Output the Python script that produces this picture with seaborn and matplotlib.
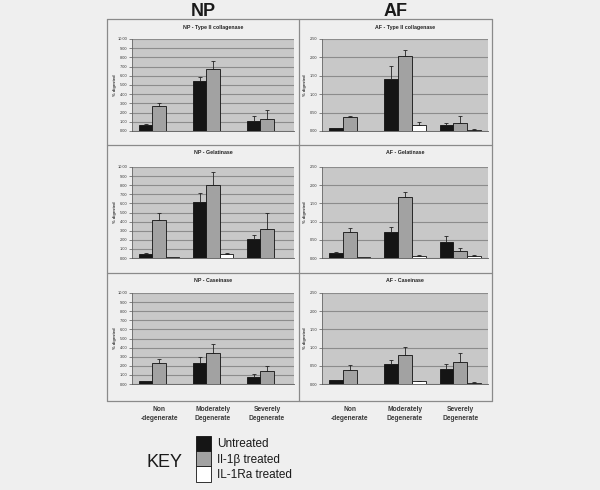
import matplotlib
matplotlib.use("Agg")
import matplotlib.pyplot as plt
import numpy as np
import pandas as pd
import seaborn as sns
from matplotlib.lines import Line2D

# categories / treatments
categories = ["Non\n-degenerate", "Moderately\nDegenerate", "Severely\nDegenerate"]
treatments = ["Untreated", "Il-1\u03b2 treated", "IL-1Ra treated"]

# values: rows = category, cols = treatment
np_collagenase = [[0.65, 2.70, 0.05], [5.45, 6.70, 0.05], [1.05, 1.35, 0.03]]
np_collagenase_err = [[0.08, 0.30, 0.0], [0.45, 0.90, 0.0], [0.55, 0.90, 0.0]]
af_collagenase = [[0.07, 0.37, 0.0], [1.40, 2.05, 0.15], [0.15, 0.23, 0.04]]
af_collagenase_err = [[0.02, 0.05, 0.0], [0.37, 0.15, 0.10], [0.07, 0.18, 0.02]]
np_gelatinase = [[0.45, 4.20, 0.15], [6.10, 8.00, 0.45], [2.05, 3.20, 0.05]]
np_gelatinase_err = [[0.10, 0.80, 0.0], [1.00, 1.40, 0.10], [0.50, 1.75, 0.0]]
af_gelatinase = [[0.14, 0.72, 0.04], [0.72, 1.68, 0.06], [0.44, 0.18, 0.05]]
af_gelatinase_err = [[0.02, 0.11, 0.0], [0.14, 0.14, 0.01], [0.17, 0.09, 0.02]]
np_caseinase = [[0.30, 2.30, 0.02], [2.30, 3.45, 0.02], [0.80, 1.45, 0.02]]
np_caseinase_err = [[0.05, 0.45, 0.0], [0.70, 1.00, 0.0], [0.30, 0.55, 0.0]]
af_caseinase = [[0.10, 0.39, 0.0], [0.55, 0.79, 0.07], [0.41, 0.61, 0.04]]
af_caseinase_err = [[0.02, 0.14, 0.0], [0.12, 0.24, 0.02], [0.14, 0.25, 0.02]]

panels = [
    ("NP - Type II collagenase", np_collagenase, np_collagenase_err, 10),
    ("AF - Type II collagenase", af_collagenase, af_collagenase_err, 2.5),
    ("NP - Gelatinase", np_gelatinase, np_gelatinase_err, 10),
    ("AF - Gelatinase", af_gelatinase, af_gelatinase_err, 2.5),
    ("NP - Caseinase", np_caseinase, np_caseinase_err, 10),
    ("AF - Caseinase", af_caseinase, af_caseinase_err, 2.5),
]

bar_colors = ["#151515", "#a2a2a2", "#ffffff"]
W, H = 600, 490
PAGE = "#efefef"

sns.set_theme(style="white")
plt.rcParams["font.family"] = ["Liberation Sans", "DejaVu Sans"]

fig = plt.figure(figsize=(W / 100, H / 100), dpi=100, facecolor=PAGE)


def px_axes(x0, y0, x1, y1):
    return fig.add_axes([x0 / W, 1 - y1 / H, (x1 - x0) / W, (y1 - y0) / H])


# plot-area boxes in pixel coordinates
col_x = [(132, 294), (322, 488)]
row_y = [(39, 131), (167, 258), (293, 384)]
title_y = [27, 152, 281]
ylabel_x = [115, 305]

handles = labels = None
for i, (title, means, errs, ymax) in enumerate(panels):
    r, c = divmod(i, 2)
    ax = px_axes(col_x[c][0], row_y[r][0], col_x[c][1], row_y[r][1])
    df = pd.DataFrame(
        [(cat, tr, means[ci][ti]) for ci, cat in enumerate(categories)
         for ti, tr in enumerate(treatments)],
        columns=["category", "treatment", "value"],
    )
    sns.barplot(data=df, x="category", y="value", hue="treatment",
                order=categories, hue_order=treatments, palette=bar_colors,
                width=0.75, gap=0, errorbar=None, edgecolor="#111111",
                linewidth=0.6, saturation=1, ax=ax, legend=(i == 0), zorder=3)
    if i == 0:
        handles, labels = ax.get_legend_handles_labels()
        ax.get_legend().remove()

    # one-sided error bars on top of each bar
    bar_conts = list(ax.containers)
    for ti, cont in enumerate(bar_conts):
        xs = [p.get_x() + p.get_width() / 2 for p in cont.patches]
        hs = [p.get_height() for p in cont.patches]
        e = [errs[ci][ti] for ci in range(len(categories))]
        keep = [k for k in range(len(e)) if e[k] > 0]
        if keep:
            ax.errorbar([xs[k] for k in keep], [hs[k] for k in keep],
                        yerr=[[0] * len(keep), [e[k] for k in keep]],
                        fmt="none", ecolor="#222222", elinewidth=0.6,
                        capsize=1.6, capthick=0.6, zorder=4)

    ax.set_facecolor("#c8c8c8")
    ax.set_ylim(0, ymax)
    step = 1 if ymax > 5 else 0.5
    ticks = np.arange(0, ymax + 1e-9, step)
    ax.set_yticks(ticks)
    ax.set_yticklabels([f"{t:.2f}" for t in ticks], fontsize=2.8, color="#333333")
    ax.yaxis.grid(True, color="#8c8c8c", linewidth=0.8, zorder=0)
    ax.set_axisbelow(True)
    ax.tick_params(axis="y", length=2, width=0.5, pad=1.5, color="#555555", left=True)
    ax.tick_params(axis="x", length=0)
    ax.set_xlim(-0.5, 2.5)
    for s in ["top", "right"]:
        ax.spines[s].set_visible(False)
    ax.spines["left"].set_color("#666666")
    ax.spines["left"].set_linewidth(0.6)
    ax.spines["bottom"].set_color("#555555")
    ax.spines["bottom"].set_linewidth(0.6)
    ax.set_xlabel("")
    ax.set_ylabel("")
    fig.text(ylabel_x[c] / W, 1 - (sum(row_y[r]) / 2) / H, "% digested",
             rotation=90, fontsize=3, fontweight="bold", color="#333333",
             ha="center", va="center")
    fig.text(sum(col_x[c]) / 2 / W, 1 - title_y[r] / H, title,
             fontsize=3.8, fontweight="bold", color="#222222",
             ha="center", va="center")
    if r == 2:
        ax.set_xticks(range(len(categories)))
        ax.set_xticklabels(categories, fontsize=4.8, fontweight="bold",
                           color="#3a3a3a", linespacing=1.3)
        ax.tick_params(axis="x", pad=16)
    else:
        ax.set_xticklabels([])

# panel frame
frame_col = "#8a8a8a"
for (x0, y0, x1, y1) in [(107, 19, 492, 19), (107, 401, 492, 401),
                         (107, 19, 107, 401), (492, 19, 492, 401),
                         (299, 19, 299, 401), (107, 145, 492, 145),
                         (107, 273, 492, 273)]:
    fig.add_artist(Line2D([x0 / W, x1 / W], [1 - y0 / H, 1 - y1 / H],
                          color=frame_col, linewidth=0.9))

# column headers
fig.text(203 / W, 1 - 12 / H, "NP", fontsize=13, fontweight="bold",
         color="#1a1a1a", ha="center", va="center")
fig.text(396 / W, 1 - 12 / H, "AF", fontsize=13, fontweight="bold",
         color="#1a1a1a", ha="center", va="center")

# key
fig.text(165 / W, 1 - 462 / H, "KEY", fontsize=13, color="#1a1a1a",
         ha="center", va="center")
fig.legend(handles, labels, loc="upper left",
           bbox_to_anchor=(196 / W, 1 - 436 / H), frameon=False,
           fontsize=8.5, handlelength=1.3, handleheight=1.6,
           labelspacing=0.0, handletextpad=0.5, borderaxespad=0,
           borderpad=0, labelcolor="#1a1a1a")

fig.savefig("out.png", dpi=100, facecolor=PAGE)
